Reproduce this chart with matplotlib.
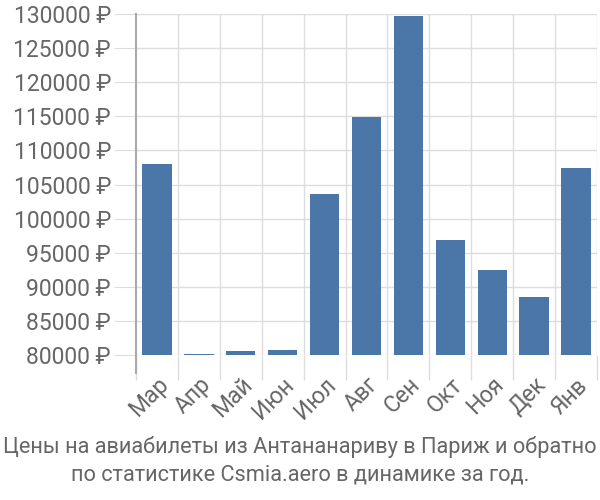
import matplotlib
matplotlib.use("Agg")
import matplotlib.pyplot as plt
from matplotlib.ticker import FuncFormatter
from matplotlib.lines import Line2D

plt.rcParams['font.family'] = ['Roboto', 'DejaVu Sans']

months = ["Мар", "Апр", "Май", "Июн", "Июл", "Авг", "Сен", "Окт", "Ноя", "Дек", "Янв"]
prices = [108000, 80150, 80600, 80700, 103600, 114900, 129700, 96900, 92500, 88500, 107400]
yticks = list(range(80000, 130001, 5000))
title = "Цены на авиабилеты из Антананариву в Париж и обратно\nпо статистике Csmia.aero в динамике за год."

fig = plt.figure(figsize=(6, 5), dpi=100)
ax = fig.add_axes([136/600, 1 - 355/500, (597-136)/600, (355-14)/500])

x = list(range(len(months)))
ax.bar(x, prices, width=0.7, color="#4a76a8", zorder=3)
ax.set_ylim(80000, 130000)
ax.set_xlim(-0.5, len(months) - 0.5)
ax.set_yticks(yticks)
ax.yaxis.set_major_formatter(FuncFormatter(lambda v, p: f"{int(v)} ₽"))
ax.set_xticks(x)
ax.set_xticklabels(months, rotation=45, ha="right", va="top", rotation_mode="anchor")
ax.set_xticks([b - 0.5 for b in range(len(months) + 1)], minor=True)

# gridlines
for v in yticks:
    ax.axhline(v, color="#dddddd", lw=1, zorder=1)
for b in range(1, len(months) + 1):
    ax.axvline(b - 0.5, color="#dddddd", lw=1, zorder=1)

for s in ["top", "right", "bottom", "left"]:
    ax.spines[s].set_visible(False)
ax.add_line(Line2D([0, 0], [-18/341, 1], transform=ax.transAxes, color="#aaaaaa",
                   lw=1.5, clip_on=False, zorder=4))

ax.tick_params(axis="y", length=16, color="#dddddd", labelsize=16.5, labelcolor="#666666", pad=2)
ax.tick_params(axis="x", which="major", length=0, labelsize=16.5, labelcolor="#666666", pad=13)
ax.tick_params(axis="x", which="minor", length=18, color="#dddddd", width=1)

fig.text(0.5, 0.03, title, ha="center", va="bottom", fontsize=15.7, color="#666666", linespacing=1.35)

fig.savefig("out.png", dpi=100)
